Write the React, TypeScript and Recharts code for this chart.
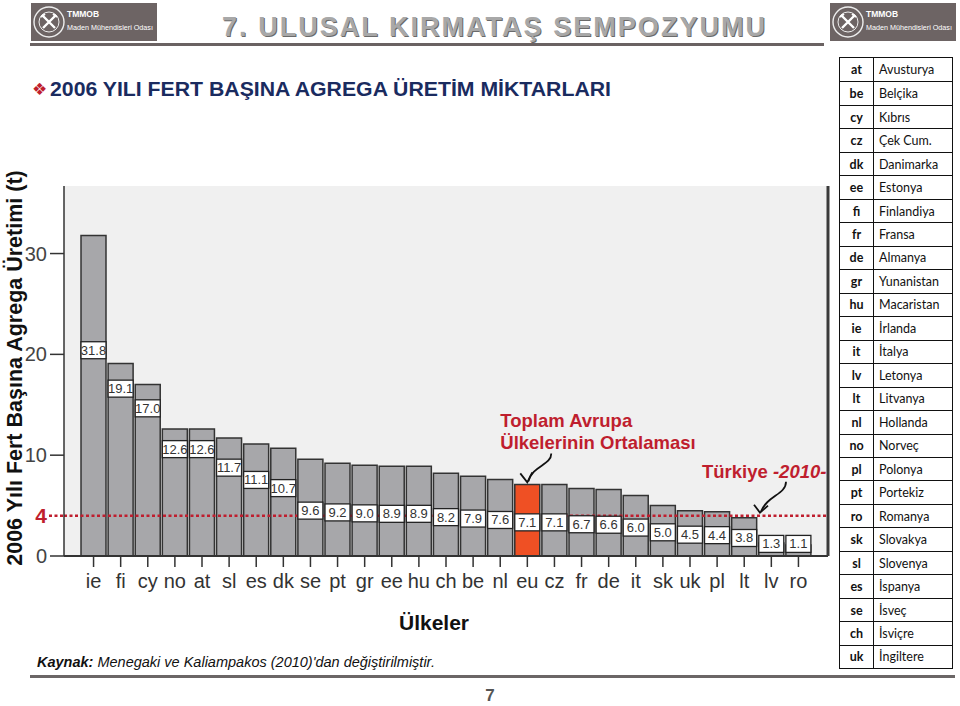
import React from 'react'
import { BarChart, Bar, XAxis, YAxis, CartesianGrid, Cell, LabelList, ReferenceLine } from 'recharts'

const FONT = '"Liberation Sans", Arial, Helvetica, sans-serif'
const RED = '#bf1e2e'
const GREY_BAR = '#a7a7aa'
const EU_BAR = '#ef5024'

// 2006 fert başına agrega üretimi (ton), büyükten küçüğe
const countryCodes = ['ie', 'fi', 'cy', 'no', 'at', 'sl', 'es', 'dk', 'se', 'pt', 'gr', 'ee', 'hu', 'ch', 'be', 'nl', 'eu', 'cz', 'fr', 'de', 'it', 'sk', 'uk', 'pl', 'lt', 'lv', 'ro']
const perCapita = [31.8, 19.1, 17.0, 12.6, 12.6, 11.7, 11.1, 10.7, 9.6, 9.2, 9.0, 8.9, 8.9, 8.2, 7.9, 7.6, 7.1, 7.1, 6.7, 6.6, 6.0, 5.0, 4.5, 4.4, 3.8, 1.3, 1.1]
const averageCode = 'eu'
const turkeyValue = 4
const yTicks = [0, 4, 10, 20, 30]

// ülke kodu tablosu
const legendCodes = ['at', 'be', 'cy', 'cz', 'dk', 'ee', 'fi', 'fr', 'de', 'gr', 'hu', 'ie', 'it', 'lv', 'lt', 'nl', 'no', 'pl', 'pt', 'ro', 'sk', 'sl', 'es', 'se', 'ch', 'uk']
const legendNames = ['Avusturya', 'Belçika', 'Kıbrıs', 'Çek Cum.', 'Danimarka', 'Estonya', 'Finlandiya', 'Fransa', 'Almanya', 'Yunanistan', 'Macaristan', 'İrlanda', 'İtalya', 'Letonya', 'Litvanya', 'Hollanda', 'Norveç', 'Polonya', 'Portekiz', 'Romanya', 'Slovakya', 'Slovenya', 'İspanya', 'İsveç', 'İsviçre', 'İngiltere']

const chartData = countryCodes.map((code, i) => ({ code, value: perCapita[i] }))

// the value boxes step down the bars as in the original slide
function labelLevel(v: number) {
  if (v >= 19.1) return 16.6 + (v - 19.1) * 0.3
  if (v >= 12.6) return 10.6 + (v - 12.6) * 0.92
  if (v >= 9.6) return 4.5 + (v - 9.6) * 2.03
  return Math.max(v * 0.47, 1.2)
}

function AverageNote({ cx, top }: { cx: number; top: number }) {
  return (
    <g fontFamily={FONT} fontWeight="bold" fontSize={18.5} fill={RED}>
      <text x={cx - 27} y={top - 57}>Toplam Avrupa</text>
      <text x={cx - 27} y={top - 35}>Ülkelerinin Ortalaması</text>
      <path d={`M ${cx + 24} ${top - 31} C ${cx + 24} ${top - 19}, ${cx + 5} ${top - 19}, ${cx + 1} ${top - 3}`} stroke="#111" strokeWidth={1.8} fill="none" />
      <path d={`M ${cx - 7} ${top - 11} L ${cx} ${top - 2} L ${cx + 5} ${top - 12}`} stroke="#111" strokeWidth={1.8} fill="none" />
    </g>
  )
}

function ValueLabel(props: any) {
  const { x, y, width, height, value, index } = props
  const v = Number(value)
  const cx = x + width / 2
  const cy = y + height - labelLevel(v) * (height / v)
  return (
    <g>
      <rect x={cx - 12.5} y={cy - 8.5} width={25} height={17} fill="#fff" stroke="#222" strokeWidth={1.3} />
      <text x={cx} y={cy + 4.5} textAnchor="middle" fontSize={13} fill="#333" fontFamily={FONT}>{v.toFixed(1)}</text>
      {countryCodes[index] === averageCode && <AverageNote cx={cx} top={y} />}
    </g>
  )
}

function TurkeyNote(props: any) {
  const vb = props.viewBox || {}
  const r = vb.x + vb.width
  const y = vb.y
  return (
    <g>
      <text x={r - 126} y={y - 38} fontFamily={FONT} fontWeight="bold" fontSize={18.5} fill={RED}>
        Türkiye <tspan fontStyle="italic">-2010-</tspan>
      </text>
      <path d={`M ${r - 42} ${y - 34} C ${r - 42} ${y - 21}, ${r - 61} ${y - 20}, ${r - 67} ${y - 4}`} stroke="#111" strokeWidth={1.8} fill="none" />
      <path d={`M ${r - 74} ${y - 11} L ${r - 68} ${y - 3} L ${r - 60} ${y - 10}`} stroke="#111" strokeWidth={1.8} fill="none" />
    </g>
  )
}

function YTick(props: any) {
  const { x, y, payload } = props
  const v = payload.value
  if (v === turkeyValue) {
    return (
      <g>
        <text x={x - 1} y={y + 7.5} textAnchor="end" fontSize={21} fontWeight="bold" fill={RED} fontFamily={FONT}>{v}</text>
        <line x1={x + 1} x2={x + 16} y1={y} y2={y} stroke={RED} strokeWidth={2.5} strokeDasharray="3 2.5" />
      </g>
    )
  }
  return (
    <g>
      <text x={x - 1} y={y + 7} textAnchor="end" fontSize={20} fill="#444" fontFamily={FONT}>{v}</text>
      <line x1={x + 2} x2={x + 16} y1={y} y2={y} stroke="#333" strokeWidth={1.5} />
    </g>
  )
}

function Logo({ left }: { left: number }) {
  return (
    <div style={{ position: 'absolute', left, top: 3, width: 126, height: 38, background: '#6d6464' }}>
      <svg width={126} height={38} style={{ position: 'absolute', left: 0, top: 0 }}>
        <circle cx={18} cy={19} r={15} fill="none" stroke="#eee" strokeWidth={1.4} />
        <circle cx={18} cy={19} r={10} fill="none" stroke="#eee" strokeWidth={1} />
        <path d="M 12 13 L 24 25 M 24 13 L 12 25" stroke="#fff" strokeWidth={2.4} />
        <path d="M 10 14 L 14 11 M 26 14 L 22 11" stroke="#fff" strokeWidth={2} />
        <text x={36} y={14} fill="#fff" fontSize={8.5} fontWeight="bold" fontFamily={FONT}>TMMOB</text>
        <text x={36} y={27} fill="#fff" fontSize={7.2} fontFamily={FONT}>Maden Mühendisleri Odası</text>
      </svg>
    </div>
  )
}

function CodeTable() {
  const rowH = 23.47
  return (
    <div style={{ position: 'absolute', left: 839, top: 57, width: 114, border: '1.5px solid #111', boxSizing: 'border-box', fontFamily: 'Lato, "Open Sans", sans-serif', fontSize: 12.5, color: '#111', background: '#fff' }}>
      {legendCodes.map((c, i) => (
        <div key={c} style={{ display: 'flex', height: rowH, boxSizing: 'border-box', borderTop: i === 0 ? 'none' : '1px solid #111', alignItems: 'center' }}>
          <div style={{ width: 33, height: '100%', borderRight: '1px solid #111', display: 'flex', alignItems: 'center', justifyContent: 'center', fontWeight: 'bold' }}>{c}</div>
          <div style={{ paddingLeft: 5 }}>{legendNames[i]}</div>
        </div>
      ))}
    </div>
  )
}

export default function App() {
  return (
    <div style={{ position: 'absolute', left: 0, top: 0, width: 960, height: 706, background: '#fff', overflow: 'hidden' }}>
      <Logo left={31} />
      <Logo left={830} />
      <svg width={960} height={706} style={{ position: 'absolute', left: 0, top: 0 }}>
        <text x={223} y={37} fontSize={27} fontWeight="bold" fontFamily={FONT} fill="#6a6a6a" textLength={543} lengthAdjust="spacing">7. ULUSAL KIRMATAŞ SEMPOZYUMU</text>
        <text x={222} y={36} fontSize={27} fontWeight="bold" fontFamily={FONT} fill="#a8a8a8" textLength={543} lengthAdjust="spacing">7. ULUSAL KIRMATAŞ SEMPOZYUMU</text>
        <rect x={30} y={43} width={794} height={3} fill="#6a6262" />
        <text x={32} y={95} fontSize={17} fill={RED} fontFamily='"DejaVu Sans", sans-serif'>❖</text>
        <text x={50} y={96} fontSize={20.5} fontWeight="bold" fill="#1a2b5f" fontFamily={FONT} textLength={561} lengthAdjust="spacingAndGlyphs">2006 YILI FERT BAŞINA AGREGA ÜRETİM MİKTARLARI</text>
        <text transform="translate(22 368) rotate(-90)" textAnchor="middle" fontSize={21.5} fontWeight="bold" fill="#111" fontFamily={FONT}>2006 Yılı Fert Başına Agrega Üretimi (t)</text>
        <text x={434} y={630} textAnchor="middle" fontSize={21} fontWeight="bold" fill="#111" fontFamily={FONT}>Ülkeler</text>
        <text x={37} y={667} fontSize={14.5} fontStyle="italic" fill="#111" fontFamily={FONT}>
          <tspan fontWeight="bold">Kaynak:</tspan> Menegaki ve Kaliampakos (2010)'dan değiştirilmiştir.
        </text>
        <rect x={30} y={675} width={925} height={3} fill="#6b6666" />
        <text x={490} y={701} textAnchor="middle" fontSize={17} fontWeight="bold" fill="#555" fontFamily={FONT}>7</text>
      </svg>
      <div style={{ position: 'absolute', left: 0, top: 0 }}>
        <BarChart width={840} height={600} data={chartData} margin={{ top: 186, right: 11, bottom: 0, left: 0 }} barCategoryGap={1}>
          <CartesianGrid fill="#f0f0f0" horizontal={false} vertical={false} />
          <XAxis dataKey="code" interval={0} padding={{ left: 16, right: 16 }} height={44} tickSize={11} tickMargin={7}
            tick={{ fontSize: 20, fill: '#333', fontFamily: FONT }} tickLine={{ stroke: '#333', strokeWidth: 1.5 }} axisLine={{ stroke: '#333', strokeWidth: 2 }} />
          <XAxis xAxisId="frame" orientation="top" dataKey="code" height={0} tick={false} tickLine={false} axisLine={{ stroke: '#333', strokeWidth: 2 }} />
          <YAxis domain={[0, 36.7]} ticks={yTicks} width={64} tickSize={14} tick={<YTick />} tickLine={false}
            axisLine={{ stroke: '#333', strokeWidth: 1.5 }} allowDataOverflow />
          <YAxis yAxisId="frame" orientation="right" width={1} tick={false} tickLine={false} axisLine={{ stroke: '#3a3a3a', strokeWidth: 3 }} />
          <Bar dataKey="value" fill={GREY_BAR} stroke="#333" strokeWidth={1.5} isAnimationActive={false}>
            {chartData.map((d) => (
              <Cell key={d.code} fill={d.code === averageCode ? EU_BAR : GREY_BAR} />
            ))}
            <LabelList dataKey="value" content={ValueLabel} />
          </Bar>
          <ReferenceLine y={turkeyValue} stroke={RED} strokeWidth={2.5} strokeDasharray="3 2.5" label={TurkeyNote} />
        </BarChart>
      </div>
      <CodeTable />
    </div>
  )
}
